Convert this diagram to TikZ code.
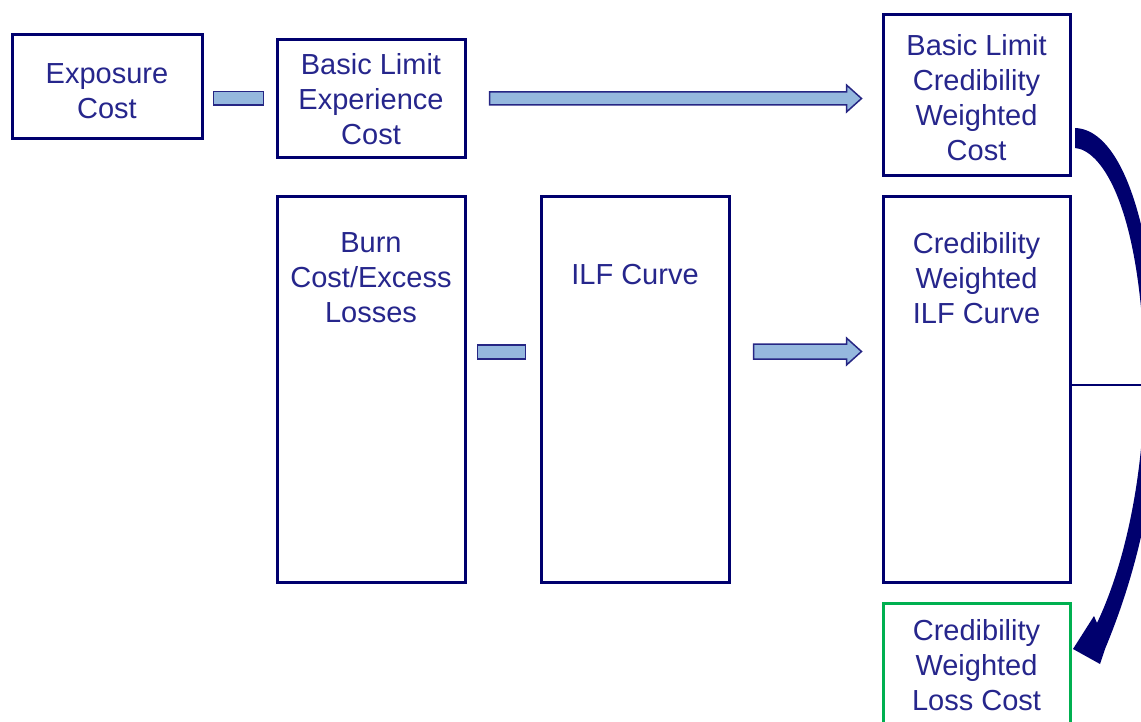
\documentclass[tikz,border=0pt]{standalone}
\usepackage{fontspec}
\setmainfont{Liberation Sans}
\usetikzlibrary{calc}
\definecolor{navyb}{RGB}{0,0,110}
\definecolor{txtb}{RGB}{38,38,140}
\definecolor{lblue}{RGB}{149,184,222}
\definecolor{boxgreen}{RGB}{0,176,80}
\tikzset{
  box/.style={draw=navyb, line width=3pt, inner sep=0pt, fill=white},
  txt/.style={text=txtb, align=center, inner sep=0pt, font=\fontsize{29}{35}\selectfont},
  barrow/.style={draw=navyb!85, fill=lblue, line width=1.5pt, line join=miter},
}
\begin{document}
\begin{tikzpicture}[x=1pt,y=-1pt]
\useasboundingbox (0,0) rectangle (1141,722);
\clip (0,0) rectangle (1141,722);
% boxes
\node[box, minimum width=190, minimum height=104] (exp) at (107,87) {};
\node[box, minimum width=188, minimum height=118] (blec) at (371,99) {};
\node[box, minimum width=187, minimum height=161] (blcwc) at (976.5,95.5) {};
\node[box, minimum width=188, minimum height=385] (burn) at (371,389.5) {};
\node[box, minimum width=188, minimum height=385] (ilf) at (635,389.5) {};
\node[box, minimum width=187, minimum height=385] (cwilf) at (976.5,389.5) {};
\node[box, draw=boxgreen, minimum width=187, minimum height=150] (cwlc) at (976.5,678) {};
% texts
\node[txt] (expT) at ($(exp.center)+(0,4)$) {Exposure\\Cost};
\node[txt] (blecT) at ($(blec.center)+(0,0.5)$) {Basic Limit\\Experience\\Cost};
\node[txt] (blcwcT) at ($(blcwc.center)+(0,2)$) {Basic Limit\\Credibility\\Weighted\\Cost};
\node[txt, anchor=north] (burnT) at ($(burn.north)+(0,37)$) {Burn\\Cost/Excess\\Losses};
\node[txt, anchor=north] (ilfT) at ($(ilf.north)+(0,69)$) {ILF Curve};
\node[txt, anchor=north] (cwilfT) at ($(cwilf.north)+(0,37)$) {Credibility\\Weighted\\ILF Curve};
\node[txt, anchor=north] (cwlcT) at ($(cwlc.north)+(0,18)$) {Credibility\\Weighted\\Loss Cost};
% short connectors
\draw[barrow] ($(exp.east |- blec.center)+(10,-7.5)$) rectangle ($(blec.west)+(-12,6)$);
\draw[barrow] ($(burn.east)+(11,-44.5)$) rectangle ($(ilf.west)+(-14,-30.5)$);
% block arrows
\coordinate (a1s) at ($(blec.east)+(23,-0.5)$);
\coordinate (a1e) at ($(blcwc.west |- a1s)+(-20,0)$);
\draw[barrow] let \p1=(a1s), \p2=(a1e) in
  (\x1,\y1+6.5pt) -- (\x2-15pt,\y1+6.5pt) -- (\x2-15pt,\y1+13.5pt) -- (\x2,\y1)
  -- (\x2-15pt,\y1-13.5pt) -- (\x2-15pt,\y1-6.5pt) -- (\x1,\y1-6.5pt) -- cycle;
\coordinate (a2s) at ($(ilf.east)+(23,-38)$);
\coordinate (a2e) at ($(cwilf.west |- a2s)+(-20,0)$);
\draw[barrow] let \p1=(a2s), \p2=(a2e) in
  (\x1,\y1+7.5pt) -- (\x2-15pt,\y1+7.5pt) -- (\x2-15pt,\y1+13.5pt) -- (\x2,\y1)
  -- (\x2-15pt,\y1-13.5pt) -- (\x2-15pt,\y1-7.5pt) -- (\x1,\y1-7.5pt) -- cycle;
% line to right edge
\coordinate (rim) at (1150,385);
\draw[navyb, line width=2.5pt] (cwilf.east |- rim) -- (rim);
% curved arrow
\fill[navyb] (1075,128) .. controls (1110,129) and (1146,185) .. (1158,340)
  .. controls (1163,460) and (1142,560) .. (1105,649)
  -- (1100,664) -- (1073,649) -- (1094,616) -- (1097,623)
  .. controls (1127,560) and (1148,460) .. (1144,350)
  .. controls (1137,200) and (1100,150) .. (1075,148) -- cycle;
\end{tikzpicture}
\end{document}
